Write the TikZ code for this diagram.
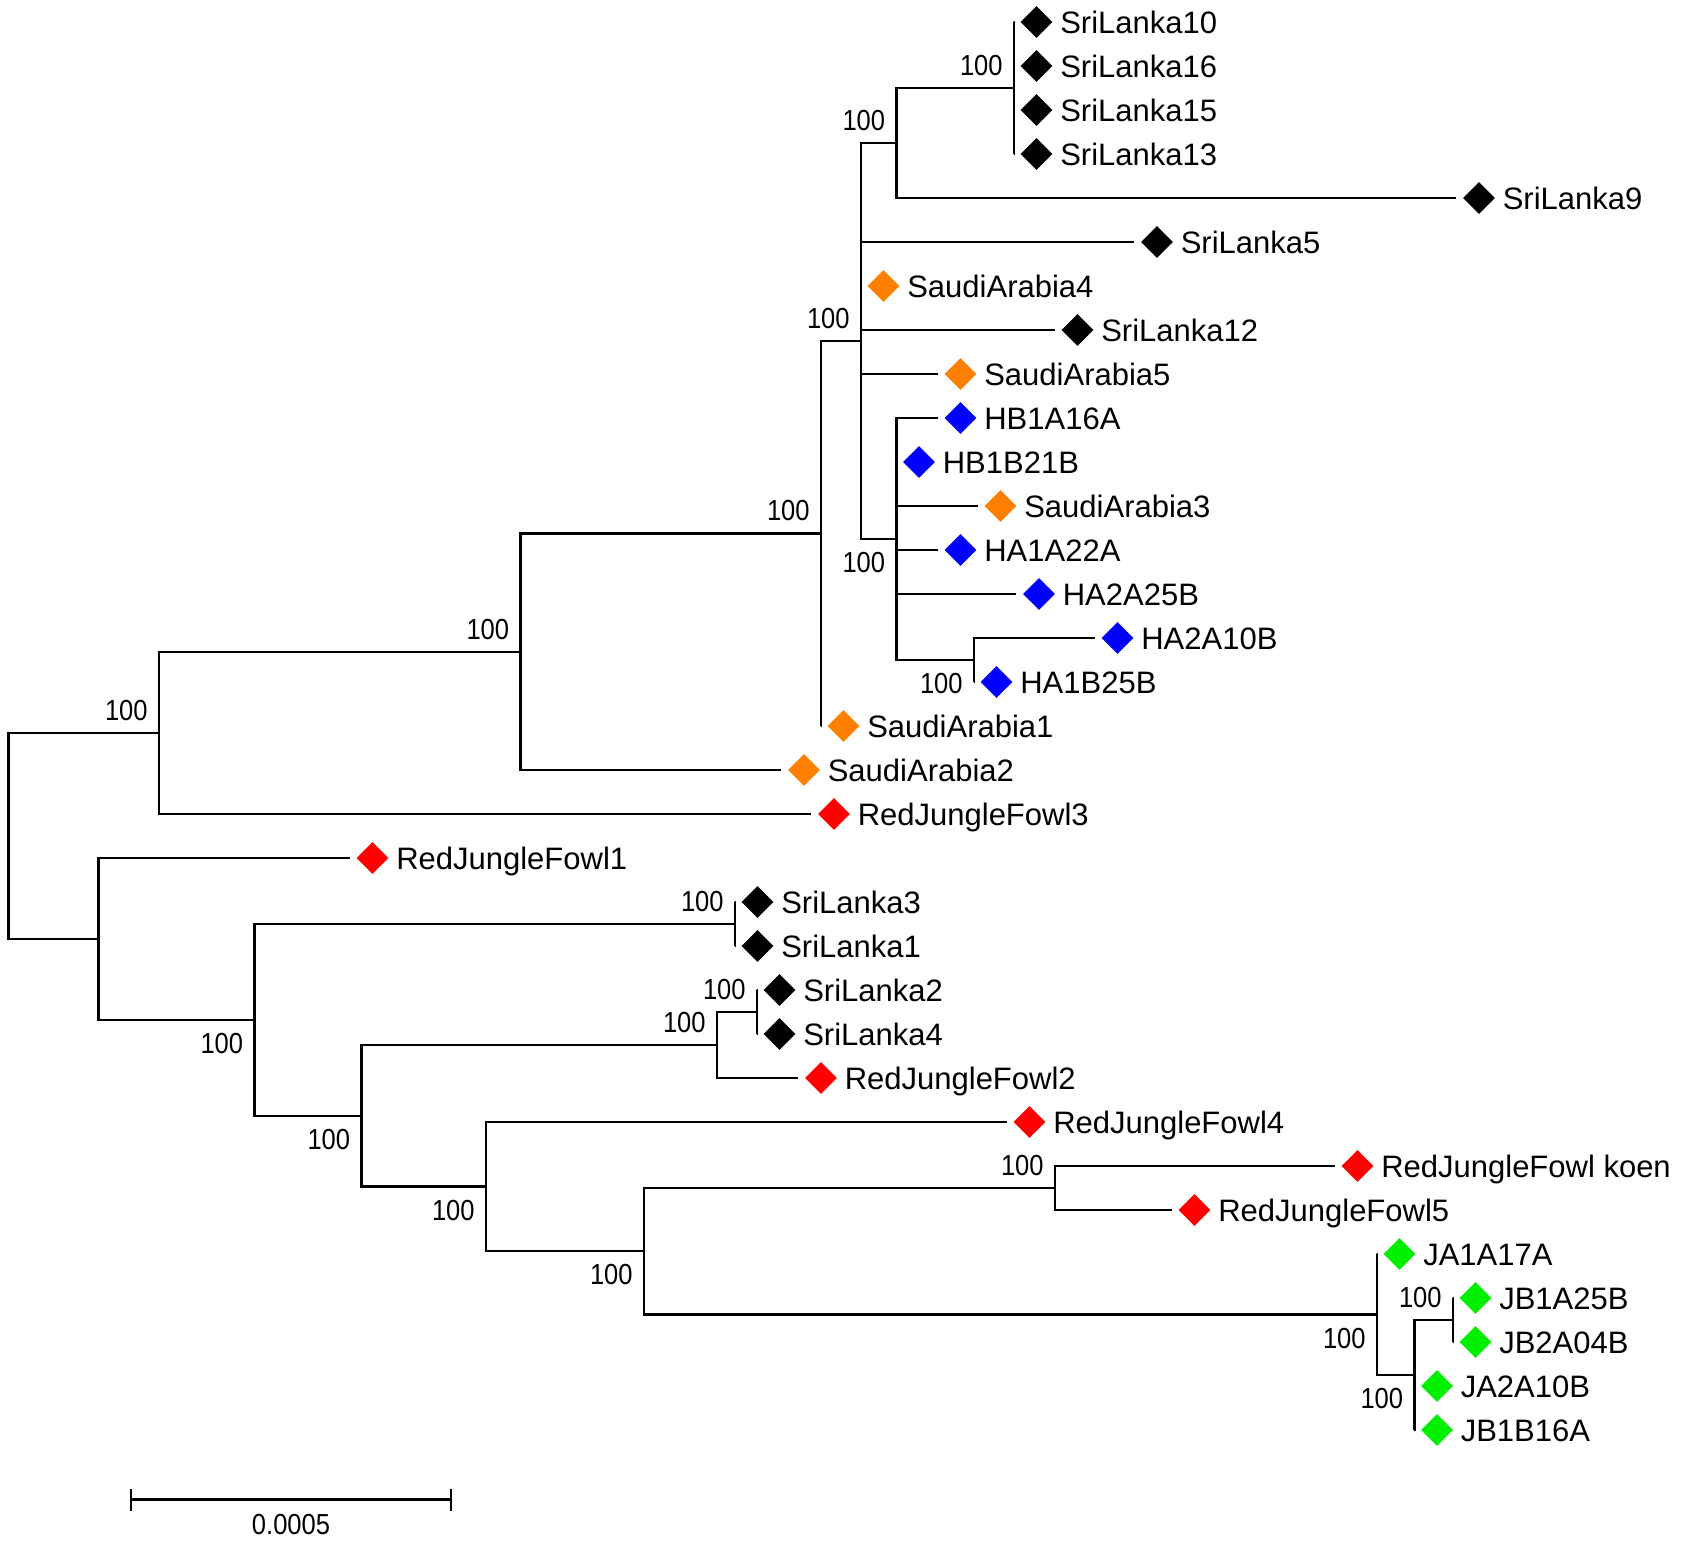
\documentclass[tikz,border=0pt]{standalone}
\usepackage{fontspec}
\setmainfont{Liberation Sans}
\newfontfamily\supfont[FakeStretch=0.88]{Liberation Sans}
\usetikzlibrary{shapes.geometric,arrows.meta}
\definecolor{slk}{RGB}{0,0,0}
\definecolor{sau}{RGB}{255,128,0}
\definecolor{hbl}{RGB}{0,0,255}
\definecolor{rjf}{RGB}{255,0,0}
\definecolor{jgr}{RGB}{0,240,0}
\tikzstyle{branch} = [line width=1.2pt]
\tikzstyle{twig} = [branch, shorten >=3.25pt]
\tikzstyle{leafmark} = [diamond, draw=none, inner sep=0pt, minimum size=16pt, label distance=5pt]
\tikzstyle{leaftext} = [inner sep=0pt, xshift=3.5pt, text height=11pt, text depth=0pt, font={\fontsize{15.5pt}{18pt}\selectfont}]
\tikzstyle{supfnt} = [inner sep=0pt, font={\supfont\fontsize{14.5pt}{16pt}\selectfont}]
\tikzstyle{supa} = [supfnt, anchor=south east, xshift=-5.5pt, yshift=6pt]
\tikzstyle{supb} = [supfnt, anchor=north east, xshift=-5.5pt, yshift=-6.5pt]

\begin{document}
\begin{tikzpicture}[x=0.5pt,y=-0.5pt]
    \useasboundingbox (0,0) rectangle (1683,1543);
    % internal nodes
    \coordinate (root) at (8.5,836);
    \coordinate (a) at (159,733);
    \coordinate (a1) at (520.5,651.75);
    \coordinate (a1a) at (821,533.5);
    \coordinate (a1b) at (861,341);
    \coordinate (c1) at (896.5,143);
    \coordinate (c1a) at (1014,88);
    \coordinate (c2) at (896.5,539);
    \coordinate (c3) at (974,660);
    \coordinate (b) at (98.5,939);
    \coordinate (b1) at (254.5,1020);
    \coordinate (b1a) at (735,924);
    \coordinate (b2) at (361.5,1115.75);
    \coordinate (b2a) at (717,1045);
    \coordinate (b2aa) at (757,1012);
    \coordinate (b3) at (486,1186.5);
    \coordinate (b4) at (644,1251);
    \coordinate (b4a) at (1055,1188);
    \coordinate (b5) at (1377,1314.5);
    \coordinate (b6) at (1414.5,1375);
    \coordinate (b6a) at (1453,1320);

    % leaves
    \node[leafmark,fill=slk,label={[leaftext]right:SriLanka10}](sl10) at (1036.5,22){};
    \node[leafmark,fill=slk,label={[leaftext]right:SriLanka16}](sl16) at (1036.5,66){};
    \node[leafmark,fill=slk,label={[leaftext]right:SriLanka15}](sl15) at (1036.5,110){};
    \node[leafmark,fill=slk,label={[leaftext]right:SriLanka13}](sl13) at (1036.5,154){};
    \node[leafmark,fill=slk,label={[leaftext]right:SriLanka9}](sl9) at (1479,198){};
    \node[leafmark,fill=slk,label={[leaftext]right:SriLanka5}](sl5) at (1157,242){};
    \node[leafmark,fill=sau,label={[leaftext]right:SaudiArabia4}](sa4) at (883.5,286){};
    \node[leafmark,fill=slk,label={[leaftext]right:SriLanka12}](sl12) at (1077.5,330){};
    \node[leafmark,fill=sau,label={[leaftext]right:SaudiArabia5}](sa5) at (960.5,374){};
    \node[leafmark,fill=hbl,label={[leaftext]right:HB1A16A}](hb16) at (960.5,418){};
    \node[leafmark,fill=hbl,label={[leaftext]right:HB1B21B}](hb21) at (919,462){};
    \node[leafmark,fill=sau,label={[leaftext]right:SaudiArabia3}](sa3) at (1000.5,506){};
    \node[leafmark,fill=hbl,label={[leaftext]right:HA1A22A}](ha22) at (960.5,550){};
    \node[leafmark,fill=hbl,label={[leaftext]right:HA2A25B}](ha25) at (1039,594){};
    \node[leafmark,fill=hbl,label={[leaftext]right:HA2A10B}](ha10) at (1117.5,638){};
    \node[leafmark,fill=hbl,label={[leaftext]right:HA1B25B}](hb25) at (996.5,682){};
    \node[leafmark,fill=sau,label={[leaftext]right:SaudiArabia1}](sa1) at (843.5,726){};
    \node[leafmark,fill=sau,label={[leaftext]right:SaudiArabia2}](sa2) at (804,770){};
    \node[leafmark,fill=rjf,label={[leaftext]right:RedJungleFowl3}](rjf3) at (834,814){};
    \node[leafmark,fill=rjf,label={[leaftext]right:RedJungleFowl1}](rjf1) at (372.5,858){};
    \node[leafmark,fill=slk,label={[leaftext]right:SriLanka3}](sl3) at (757.5,902){};
    \node[leafmark,fill=slk,label={[leaftext]right:SriLanka1}](sl1) at (757.5,946){};
    \node[leafmark,fill=slk,label={[leaftext]right:SriLanka2}](sl2) at (779.5,990){};
    \node[leafmark,fill=slk,label={[leaftext]right:SriLanka4}](sl4) at (779.5,1034){};
    \node[leafmark,fill=rjf,label={[leaftext]right:RedJungleFowl2}](rjf2) at (821,1078){};
    \node[leafmark,fill=rjf,label={[leaftext]right:RedJungleFowl4}](rjf4) at (1029.5,1122){};
    \node[leafmark,fill=rjf,label={[leaftext]right:RedJungleFowl koen}](rjfk) at (1357.5,1166){};
    \node[leafmark,fill=rjf,label={[leaftext]right:RedJungleFowl5}](rjf5) at (1194.5,1210){};
    \node[leafmark,fill=jgr,label={[leaftext]right:JA1A17A}](ja17) at (1399.5,1254){};
    \node[leafmark,fill=jgr,label={[leaftext]right:JB1A25B}](jb25) at (1475.5,1298){};
    \node[leafmark,fill=jgr,label={[leaftext]right:JB2A04B}](jb04) at (1475.5,1342){};
    \node[leafmark,fill=jgr,label={[leaftext]right:JA2A10B}](ja10) at (1437,1386){};
    \node[leafmark,fill=jgr,label={[leaftext]right:JB1B16A}](jb16) at (1437,1430){};

    % upper clade
    \draw[branch](root)|-(a);
    \draw[branch](a)|-(a1);
    \draw[twig](a)|-(rjf3.west);
    \draw[branch](a1)|-(a1a);
    \draw[twig](a1)|-(sa2.west);
    \draw[branch](a1a)|-(a1b);
    \draw[twig](a1a)|-(sa1.west);
    \draw[branch](a1b)|-(c1);
    \draw[twig](a1b)|-(sl5.west);
    \draw[twig](a1b)|-(sa4.west);
    \draw[twig](a1b)|-(sl12.west);
    \draw[twig](a1b)|-(sa5.west);
    \draw[branch](a1b)|-(c2);
    \draw[branch](c1)|-(c1a);
    \draw[twig](c1)|-(sl9.west);
    \draw[twig](c1a)|-(sl10.west);
    \draw[twig](c1a)|-(sl16.west);
    \draw[twig](c1a)|-(sl15.west);
    \draw[twig](c1a)|-(sl13.west);
    \draw[twig](c2)|-(hb16.west);
    \draw[twig](c2)|-(hb21.west);
    \draw[twig](c2)|-(sa3.west);
    \draw[twig](c2)|-(ha22.west);
    \draw[twig](c2)|-(ha25.west);
    \draw[branch](c2)|-(c3);
    \draw[twig](c3)|-(ha10.west);
    \draw[twig](c3)|-(hb25.west);

    % lower clade
    \draw[branch](root)|-(b);
    \draw[twig](b)|-(rjf1.west);
    \draw[branch](b)|-(b1);
    \draw[branch](b1)|-(b1a);
    \draw[twig](b1a)|-(sl3.west);
    \draw[twig](b1a)|-(sl1.west);
    \draw[branch](b1)|-(b2);
    \draw[branch](b2)|-(b2a);
    \draw[branch](b2a)|-(b2aa);
    \draw[twig](b2aa)|-(sl2.west);
    \draw[twig](b2aa)|-(sl4.west);
    \draw[twig](b2a)|-(rjf2.west);
    \draw[branch](b2)|-(b3);
    \draw[twig](b3)|-(rjf4.west);
    \draw[branch](b3)|-(b4);
    \draw[branch](b4)|-(b4a);
    \draw[twig](b4a)|-(rjfk.west);
    \draw[twig](b4a)|-(rjf5.west);
    \draw[branch](b4)|-(b5);
    \draw[twig](b5)|-(ja17.west);
    \draw[branch](b5)|-(b6);
    \draw[branch](b6)|-(b6a);
    \draw[twig](b6a)|-(jb25.west);
    \draw[twig](b6a)|-(jb04.west);
    \draw[twig](b6)|-(ja10.west);
    \draw[twig](b6)|-(jb16.west);

    % bootstrap values
    \node[supa](s-a) at (a){100};
    \node[supa](s-a1) at (a1){100};
    \node[supa](s-a1a) at (a1a){100};
    \node[supa](s-a1b) at (a1b){100};
    \node[supa](s-c1) at (c1){100};
    \node[supa](s-c1a) at (c1a){100};
    \node[supb](s-c2) at (c2){100};
    \node[supb](s-c3) at (c3){100};
    \node[supb](s-b1) at (b1){100};
    \node[supa](s-b1a) at (b1a){100};
    \node[supb](s-b2) at (b2){100};
    \node[supa](s-b2a) at (b2a){100};
    \node[supa](s-b2aa) at (b2aa){100};
    \node[supb](s-b3) at (b3){100};
    \node[supb](s-b4) at (b4){100};
    \node[supa](s-b4a) at (b4a){100};
    \node[supb](s-b5) at (b5){100};
    \node[supb](s-b6) at (b6){100};
    \node[supa](s-b6a) at (b6a){100};

    % scale bar
    \coordinate (barL) at (130,1499.5);
    \coordinate (barR) at (452,1499.5);
    \draw[branch,{Bar[width=11pt]}-{Bar[width=11pt]}](barL)--(barR);
    \node[supfnt,anchor=north](barlbl) at (291,1513.5){0.0005};
\end{tikzpicture}
\end{document}
